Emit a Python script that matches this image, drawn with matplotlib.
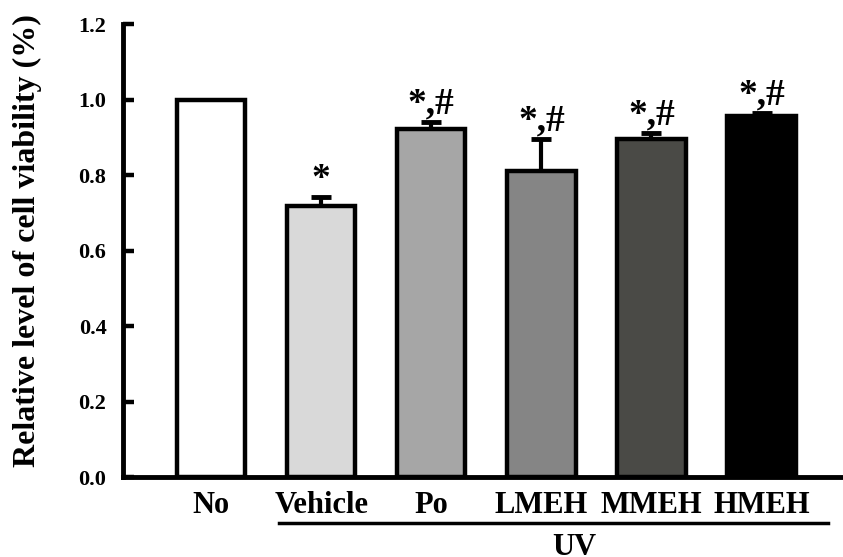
import numpy as np
import matplotlib
matplotlib.use("Agg")
from matplotlib import pyplot as plt
from matplotlib import transforms

groups = ["No", "Vehicle", "Po", "LMEH", "MMEH", "HMEH"]
viability = [1.0, 0.718, 0.923, 0.811, 0.896, 0.955]
sem = [0.0, 0.024, 0.017, 0.085, 0.015, 0.009]
marks = ["", "*", "*,#", "*,#", "*,#", "*,#"]
bar_colors = ["#ffffff", "#d9d9d9", "#a6a6a6", "#858585", "#4a4a46", "#000000"]
y_ticks = [0.0, 0.2, 0.4, 0.6, 0.8, 1.0, 1.2]

plt.rcParams['font.family'] = ['Liberation Serif', 'DejaVu Serif']
plt.rcParams['font.weight'] = 'bold'

fig = plt.figure(figsize=(8.43, 5.57), dpi=100)
ax = fig.add_axes([0.146, 0.1436, 0.854, 0.8133])

x = np.arange(len(groups))
ax.bar(x, viability, width=0.62, color=bar_colors, edgecolor='black',
       linewidth=3.2, zorder=2)
ax.errorbar(x[1:], viability[1:], yerr=[np.zeros(len(x) - 1), sem[1:]],
            fmt='none', ecolor='black', elinewidth=3, capsize=7, capthick=3.5,
            zorder=1)

for xi, v, e, m in zip(x, viability, sem, marks):
    if m:
        ax.annotate(m, (xi, v + e), xytext=(0, 6), textcoords='offset points',
                    ha='center', va='baseline', fontsize=27, fontweight='bold')

ax.set_xlim(-0.8, 5.74)
ax.set_ylim(0, 1.2)
ax.set_yticks(y_ticks)
ax.set_yticklabels([f"{t:.1f}" for t in y_ticks], fontsize=16, fontweight='bold')
ax.set_xticks(x)
ax.set_xticklabels(groups, fontsize=22, fontweight='bold')
ax.tick_params(axis='y', direction='in', length=8, width=3.2, pad=12)
ax.tick_params(axis='x', length=0, pad=10)

for side in ['top', 'right']:
    ax.spines[side].set_visible(False)
for side in ['left', 'bottom']:
    ax.spines[side].set_linewidth(3.5)

ax.set_ylabel("Relative level of cell viability (%)", fontsize=23,
              fontweight='bold')
ax.yaxis.set_label_coords(-0.112, 0.523)

# UV group underline
trans = transforms.blended_transform_factory(ax.transData, ax.transAxes)
ax.plot([0.62, 5.6], [-0.1015, -0.1015], color='black', lw=2.5,
        transform=trans, clip_on=False)
ax.text(3.3, -0.124, "UV", transform=trans, ha='center', va='top',
        fontsize=22, fontweight='bold')

fig.savefig("out.png", dpi=100)
